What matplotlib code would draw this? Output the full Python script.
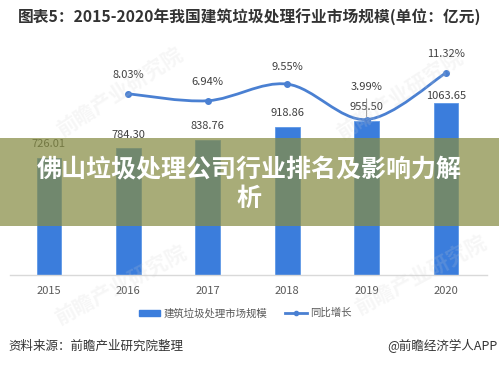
import matplotlib
matplotlib.use("Agg")
import matplotlib.pyplot as plt
from matplotlib.path import Path
from matplotlib.patches import PathPatch, Rectangle, Patch
from matplotlib.lines import Line2D
import numpy as np

plt.rcParams['font.family'] = ['Noto Sans CJK SC', 'DejaVu Sans']

# ---- data ----
years = ["2015", "2016", "2017", "2018", "2019", "2020"]
market_size = [726.01, 784.30, 838.76, 918.86, 955.50, 1063.65]
market_labels = ["726.01", "784.30", "838.76", "918.86", "955.50", "1063.65"]
growth_years_idx = [1, 2, 3, 4, 5]
growth = [8.03, 6.94, 9.55, 3.99, 11.32]
growth_labels = ["8.03%", "6.94%", "9.55%", "3.99%", "11.32%"]

title = "图表5：2015-2020年我国建筑垃圾处理行业市场规模(单位：亿元)"
legend_names = ["建筑垃圾处理市场规模", "同比增长"]
source = "资料来源：前瞻产业研究院整理"
brand = "@前瞻经济学人APP"
overlay_text = "佛山垃圾处理公司行业排名及影响力解\n析"
watermark = "前瞻产业研究院"

BAR = "#3b7ddc"
LINE = "#4a80d2"
W, H = 499, 366

fig = plt.figure(figsize=(W / 100, H / 100), dpi=100)
fig.patch.set_facecolor("white")

def fx(px):
    return px / W

def fy(py):
    return 1 - py / H

# watermarks (faint)
for (cx, cy, ang, fs) in [(120, 92, 33, 15), (400, 95, 33, 15), (120, 285, 28, 15), (420, 275, 28, 15)]:
    fig.text(fx(cx), fy(cy), watermark, rotation=ang, fontsize=fs, color="#d0d0d0",
             alpha=0.18, ha="center", va="center", fontweight="bold", zorder=0)

ax = fig.add_axes([fx(10), fy(275), fx(487) - fx(10), fy(50) - fy(275)])
ax.set_facecolor("none")
x = np.arange(len(years))
bars = ax.bar(x, market_size, width=0.31, color=BAR, edgecolor="#5e98e6", linewidth=0.6, zorder=2)
ax.set_xlim(-0.49, 5.515)
ax.set_ylim(0, 1393)
ax.set_yticks([])
for s in ["top", "right", "left"]:
    ax.spines[s].set_visible(False)
ax.spines["bottom"].set_color("#d9d9d9")
ax.spines["bottom"].set_linewidth(1.0)
ax.set_xticks(x)
ax.set_xticklabels(years, fontsize=8, color="#595959")
ax.tick_params(axis="x", length=0, pad=8)

offs = [6, 6, 6, 6, 6, 1.5]
for xi, v, lab, o in zip(x, market_size, market_labels, offs):
    ax.annotate(lab, (xi, v), xytext=(0, o), textcoords="offset points",
                ha="center", va="bottom", fontsize=8, color="#404040", zorder=5)

ax2 = ax.twinx()
ax2.set_ylim(-20.4, 14.9)
ax2.set_yticks([])
for s in ["top", "right", "left", "bottom"]:
    ax2.spines[s].set_visible(False)

# smooth (Catmull-Rom -> Bezier) line through the data points
gx = np.array(growth_years_idx, dtype=float)
gy = np.array(growth, dtype=float)
pts = np.column_stack([gx, gy])
ext = np.vstack([pts[0], pts, pts[-1]])
verts = [tuple(pts[0])]
codes = [Path.MOVETO]
for i in range(1, len(ext) - 2):
    p0, p1, p2, p3 = ext[i - 1], ext[i], ext[i + 1], ext[i + 2]
    c1 = p1 + (p2 - p0) / 6.0
    c2 = p2 - (p3 - p1) / 6.0
    verts += [tuple(c1), tuple(c2), tuple(p2)]
    codes += [Path.CURVE4] * 3
ax2.add_patch(PathPatch(Path(verts, codes), facecolor="none", edgecolor=LINE, linewidth=2.0, zorder=3))
ax2.plot(gx, gy, linestyle="none", marker="o", markersize=4, color=LINE, zorder=4)

goffs = [10, 10, 9, 20, 10]
for xi, v, lab, o in zip(gx, gy, growth_labels, goffs):
    ax2.annotate(lab, (xi, v), xytext=(0, o), textcoords="offset points",
                 ha="center", va="bottom", fontsize=8, color="#404040", zorder=5)
# leader line for 3.99%
ax2.annotate("", (gx[3], gy[3]), xytext=(0, 17), textcoords="offset points",
             arrowprops=dict(arrowstyle="-", color="#7f7f7f", lw=0.6), zorder=5)

# legend
handles = [Patch(facecolor=BAR, edgecolor=BAR),
           Line2D([0], [0], color=LINE, lw=2.0, marker="o", markersize=3)]
leg = fig.legend(handles, legend_names, loc="center", bbox_to_anchor=(fx(245), fy(313)),
                 ncol=2, frameon=False, fontsize=7.5, handlelength=2.1, handleheight=0.5,
                 handletextpad=0.3, columnspacing=1.7, labelcolor="#595959")

# title and footer
fig.text(fx(18), fy(17), title, fontsize=11.3, fontweight="bold", color="#333333",
         ha="left", va="center")
fig.text(fx(8), fy(346), source, fontsize=9, color="#333333", ha="left", va="center")
fig.text(fx(497), fy(346), brand, fontsize=9, color="#333333", ha="right", va="center")

# overlay band and text
fig.patches.append(Rectangle((0, fy(226)), 1, fy(138) - fy(226), transform=fig.transFigure,
                             facecolor=(135 / 255, 141 / 255, 68 / 255), alpha=0.72,
                             edgecolor="none", zorder=10))
fig.text(fx(249), fy(184.5), overlay_text, fontsize=18, fontweight="bold", color="white",
         ha="center", va="center", linespacing=1.25, zorder=11)

fig.savefig("out.png", dpi=100)
